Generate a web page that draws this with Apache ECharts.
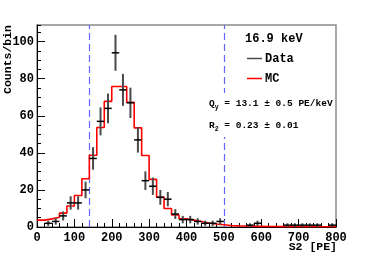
<!DOCTYPE html>
<html><head><meta charset="utf-8">
<script src="https://cdn.jsdelivr.net/npm/echarts@6/dist/echarts.min.js"></script>
<style>html,body{margin:0;padding:0;background:#fff}#c{width:374px;height:253px}</style>
</head><body><div id="c"></div>
<script>
// ---- data ----
const binWidth = 20;
const binCenters = [10,30,50,70,90,110,130,150,170,190,210,230,250,270,290,310,330,350,370,390,
                    410,430,450,470,490,510,530,550,570,590,610,630,650,670,690,710,730,750,770,790];
const dataCounts = [0,2,3,6,13,13,20,37,57,64,94,74,67,47,25,22,16,15,7,4,
                    4,3,2,2,3,0,0,0,1,2,0,0,0,1,1,1,1,1,0,1];
const dataErrors = [0,1.41,1.73,2.45,3.61,3.61,4.47,6.08,7.55,8,9.7,8.6,8.19,6.86,5,4.69,4,3.87,2.65,2,
                    2,1.73,1.41,1.41,1.73,0,0,0,1,1.41,0,0,0,1,1,1,1,1,0,1];
const mcEdges = [0,20,40,60,80,100,120,140,160,180,200,220,240,260,280,300,320,340,360,380,
                 400,420,440,460,480,500,520,540,560,580,600,620,640,660,680,700,720,740,760,780,800];
const mcValues = [3.7,4.4,5.3,7.5,11.3,17,26,38.7,53.7,67.8,75.8,75.8,67.3,53.5,38.6,25.7,16.1,10,6.5,4.4,
                  3.7,3.0,2.2,1.6,1.2,0.8,0.6,0.5,0.4,0.35,0.3,0.25,0.2,0.2,0.15,0.15,0.1,0.1,0.1,0.1];
const cutLines = [140, 500];
const xRange = [0, 800], xStep = 100, xMinorSplit = 5;
const yRange = [0, 109], yStep = 20, yMinorStep = 5;
const legendTitle = '16.9 keV';
const legendNames = ['Data', 'MC'];
const fitLines = ['{n|Q}{s|y}{n| = 13.1 ± 0.5 PE/keV}', '{n|R}{s|2}{n| = 0.23 ± 0.01}'];
const xTitle = 'S2 [PE]';
const yTitle = 'Counts/bin';

// ---- build ----
const FONT = '"Liberation Mono", "DejaVu Sans Mono", monospace';
const CUT_COLOR = '#6464ff';
const dataSeries = binCenters.map((c, i) => [c, dataCounts[i], dataErrors[i]]);
const mcSeries = mcEdges.map((e, i) => [e, i < mcValues.length ? mcValues[i] : mcValues[mcValues.length - 1]]);

const chart = echarts.init(document.getElementById('c'), null, {renderer: 'canvas'});
const labelStyle = {fontFamily: FONT, fontWeight: 'bold', fontSize: 12, color: '#000'};
chart.setOption({
  animation: false,
  grid: {left: 37, right: 38, top: 25, bottom: 26, show: true, borderColor: '#8c8c8c', borderWidth: 1.5, backgroundColor: '#fff'},
  xAxis: [{
    type: 'value', min: xRange[0], max: xRange[1], interval: xStep,
    axisLine: {lineStyle: {color: '#000', width: 1}},
    axisTick: {inside: true, length: 8, lineStyle: {color: '#000'}},
    minorTick: {show: true, splitNumber: xMinorSplit, length: 4, lineStyle: {color: '#000'}},
    splitLine: {show: false},
    axisLabel: Object.assign({margin: 5}, labelStyle)
  }],
  yAxis: [{
    type: 'value', min: yRange[0], max: yRange[1], interval: yStep,
    axisLine: {show: true, lineStyle: {color: '#000', width: 1}},
    axisTick: {inside: true, length: 8, lineStyle: {color: '#000'}},
    splitLine: {show: false},
    axisLabel: Object.assign({margin: 3, showMaxLabel: false}, labelStyle)
  }, {
    type: 'value', position: 'left', offset: 0, min: yRange[0], max: yRange[1], interval: yMinorStep,
    axisLine: {show: false},
    axisTick: {inside: true, length: 4, lineStyle: {color: '#000'}},
    splitLine: {show: false},
    axisLabel: {show: false}
  }],
  series: [{
    type: 'line', name: 'MC', data: mcSeries, step: 'end', showSymbol: false, symbol: 'none',
    lineStyle: {color: '#ff0000', width: 1.6}, z: 3,
    markLine: {
      silent: true, symbol: 'none', label: {show: false}, z: 2,
      lineStyle: {color: CUT_COLOR, type: [7, 4], width: 1.2, opacity: 1},
      emphasis: {disabled: true},
      data: cutLines.map(v => ({xAxis: v, lineStyle: {color: CUT_COLOR, type: [7, 4], width: 1.2}}))
    }
  }, {
    type: 'custom', name: 'Data', data: dataSeries, z: 4,
    renderItem(params, api) {
      const x = api.value(0), y = api.value(1), e = api.value(2);
      if (!(y > 0)) return null;
      const pL = api.coord([x - binWidth / 2, y]), pR = api.coord([x + binWidth / 2, y]);
      const pT = api.coord([x, y + e]), pB = api.coord([x, y - e]);
      return {type: 'group', children: [
        {type: 'line', shape: {x1: pT[0], y1: pT[1], x2: pB[0], y2: pB[1]}, style: {stroke: '#4a4a4a', lineWidth: 2}},
        {type: 'line', shape: {x1: pL[0], y1: pL[1], x2: pR[0], y2: pR[1]}, style: {stroke: '#000', lineWidth: 1.5}}
      ]};
    }
  }],
  graphic: [
    {type: 'text', z: 100, x: 245, y: 38.5, style: {text: legendTitle, font: 'bold 12px ' + FONT, fill: '#000', align: 'left', verticalAlign: 'middle'}},
    {type: 'line', z: 100, shape: {x1: 247, y1: 58.5, x2: 262, y2: 58.5}, style: {stroke: '#4a4a4a', lineWidth: 1.5}},
    {type: 'text', z: 100, x: 265, y: 58.5, style: {text: legendNames[0], font: 'bold 12px ' + FONT, fill: '#000', align: 'left', verticalAlign: 'middle'}},
    {type: 'line', z: 100, shape: {x1: 247, y1: 78.5, x2: 262, y2: 78.5}, style: {stroke: '#ff0000', lineWidth: 1.5}},
    {type: 'text', z: 100, x: 265, y: 78.5, style: {text: legendNames[1], font: 'bold 12px ' + FONT, fill: '#000', align: 'left', verticalAlign: 'middle'}},
    {type: 'text', z: 100, x: 207, y: 93, style: {
      text: fitLines.join('\n'), backgroundColor: '#fff', padding: [0, 2],
      rich: {
        n: {fontFamily: FONT, fontWeight: 'bold', fontSize: 9.5, lineHeight: 22, fill: '#000'},
        s: {fontFamily: FONT, fontWeight: 'bold', fontSize: 6.5, fill: '#000', padding: [6, 0, 0, 0]}
      }
    }},
    {type: 'text', z: 100, x: 337, y: 247, style: {text: xTitle, font: 'bold 11.5px ' + FONT, fill: '#000', align: 'right', verticalAlign: 'middle'}},
    {type: 'text', z: 100, x: 8, y: 25, rotation: Math.PI / 2, style: {text: yTitle, font: 'bold 11.5px ' + FONT, fill: '#000', align: 'right', verticalAlign: 'middle'}}
  ]
});
</script>
</body></html>
